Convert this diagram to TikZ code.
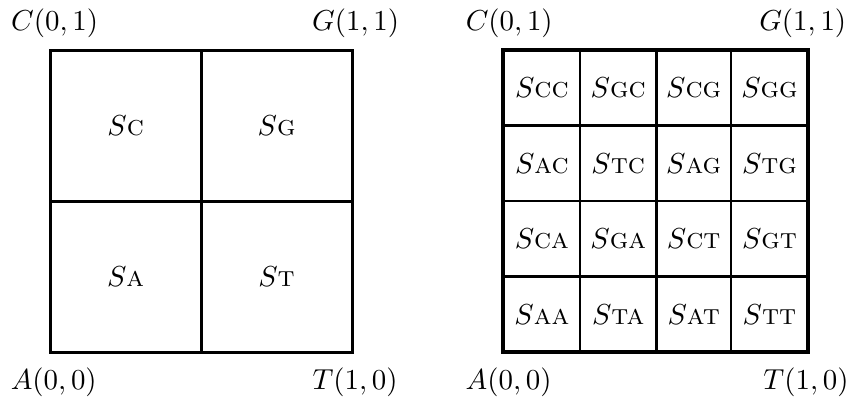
\documentclass[tikz,border=0pt]{standalone}
\usetikzlibrary{positioning}
\begin{document}
\begin{tikzpicture}[x=104.5pt, y=104.5pt]
		% 定义样式
		\tikzstyle{grid} = [line width=1pt]
		\tikzstyle{thingrid} = [line width=0.9pt]
		\tikzstyle{border} = [line width=1.3pt]
		\tikzstyle{cell} = [inner sep=1pt]
		\tikzstyle{corner} = [inner sep=0pt]
		\useasboundingbox (-0.166,-0.159) rectangle (2.659,1.166);
		
		% 左图：2x2
		\draw [grid] (0,0) rectangle (1,1);
		\draw [grid] (0.5,0) -- (0.5,1);
		\draw [grid] (0,0.5) -- (1,0.5);
		\node [corner] (lC) at (0.015,1.089) {$C(0,1)$};
		\node [corner] (lG) at (1.012,1.089) {$G(1,1)$};
		\node [corner] (lA) at (0.012,-0.099) {$A(0,0)$};
		\node [corner] (lT) at (1.010,-0.099) {$T(1,0)$};
		\node [cell] (sC) at (0.25,0.75) {$S$\textsc{c}};
		\node [cell] (sG) at (0.75,0.75) {$S$\textsc{g}};
		\node [cell] (sA) at (0.25,0.25) {$S$\textsc{a}};
		\node [cell] (sT) at (0.75,0.25) {$S$\textsc{t}};
		
		% 右图：4x4
		\begin{scope}[xshift=156.8pt]
		\draw [thingrid] (0.255,0) -- (0.255,1);
		\draw [grid] (0.507,0) -- (0.507,1);
		\draw [thingrid] (0.755,0) -- (0.755,1);
		\draw [thingrid] (0,0.25) -- (1.01,0.25);
		\draw [thingrid] (0,0.5) -- (1.01,0.5);
		\draw [thingrid] (0,0.75) -- (1.01,0.75);
		\draw [border] (0,0) rectangle (1.01,1);
		\node [corner] (rC) at (0.020,1.089) {$C(0,1)$};
		\node [corner] (rG) at (0.992,1.089) {$G(1,1)$};
		\node [corner] (rA) at (0.018,-0.099) {$A(0,0)$};
		\node [corner] (rT) at (1.003,-0.099) {$T(1,0)$};
		% 第一行
		\node [cell] (sCC) at (0.128,0.875) {$S$\textsc{cc}};
		\node [cell] (sGC) at (0.381,0.875) {$S$\textsc{gc}};
		\node [cell] (sCG) at (0.631,0.875) {$S$\textsc{cg}};
		\node [cell] (sGG) at (0.882,0.875) {$S$\textsc{gg}};
		% 第二行
		\node [cell] (sAC) at (0.128,0.625) {$S$\textsc{ac}};
		\node [cell] (sTC) at (0.381,0.625) {$S$\textsc{tc}};
		\node [cell] (sAG) at (0.631,0.625) {$S$\textsc{ag}};
		\node [cell] (sTG) at (0.882,0.625) {$S$\textsc{tg}};
		% 第三行
		\node [cell] (sCA) at (0.128,0.375) {$S$\textsc{ca}};
		\node [cell] (sGA) at (0.381,0.375) {$S$\textsc{ga}};
		\node [cell] (sCT) at (0.631,0.375) {$S$\textsc{ct}};
		\node [cell] (sGT) at (0.882,0.375) {$S$\textsc{gt}};
		% 第四行
		\node [cell] (sAA) at (0.128,0.125) {$S$\textsc{aa}};
		\node [cell] (sTA) at (0.381,0.125) {$S$\textsc{ta}};
		\node [cell] (sAT) at (0.631,0.125) {$S$\textsc{at}};
		\node [cell] (sTT) at (0.882,0.125) {$S$\textsc{tt}};
		\end{scope}
\end{tikzpicture}
\end{document}
